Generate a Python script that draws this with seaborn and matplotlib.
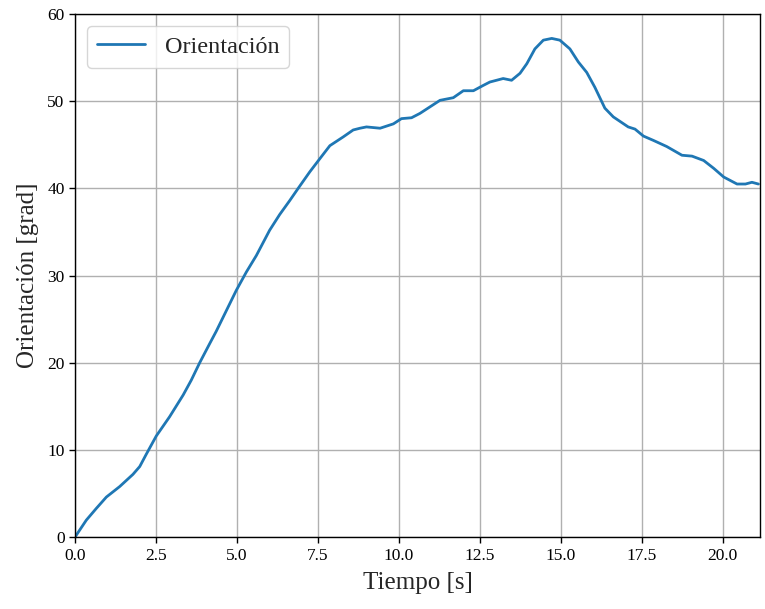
import matplotlib
matplotlib.use("Agg")
import matplotlib.pyplot as plt
import seaborn as sns
import pandas as pd

tiempo = [0.0, 0.35, 0.66, 0.97, 1.38, 1.79, 2.0, 2.2, 2.51, 2.92, 3.34, 3.59, 3.85, 4.16,
          4.36, 4.98, 5.29, 5.6, 6.01, 6.32, 6.63, 6.89, 7.25, 7.6, 7.87, 8.28, 8.59,
          8.8, 9.0, 9.42, 9.83, 10.08, 10.39, 10.65, 11.27, 11.68, 11.99, 12.3, 12.6,
          12.81, 13.22, 13.48, 13.74, 13.95, 14.2, 14.46, 14.72, 14.97, 15.28, 15.54,
          15.8, 16.05, 16.36, 16.62, 17.08, 17.29, 17.55, 17.86, 18.27, 18.74, 19.05,
          19.41, 19.72, 20.03, 20.44, 20.7, 20.9, 21.1]
orientacion = [0.0, 1.95, 3.3, 4.6, 5.8, 7.2, 8.1, 9.5, 11.6, 13.8, 16.3, 18.0, 20.0, 22.2,
               23.6, 28.3, 30.4, 32.3, 35.2, 37.0, 38.6, 40.0, 41.9, 43.6, 44.9, 45.9, 46.7,
               46.9, 47.05, 46.9, 47.4, 48.0, 48.1, 48.6, 50.1, 50.4, 51.2, 51.2, 51.8,
               52.2, 52.6, 52.4, 53.2, 54.3, 56.0, 57.0, 57.2, 57.0, 56.0, 54.5,
               53.3, 51.6, 49.2, 48.2, 47.05, 46.8, 46.0, 45.5, 44.8, 43.8, 43.7,
               43.2, 42.3, 41.3, 40.5, 40.5, 40.7, 40.5]

df = pd.DataFrame({"Tiempo": tiempo, "Orientación": orientacion})

sns.set_style("ticks", {"axes.grid": True, "grid.color": "#b0b0b0", "axes.edgecolor": "black"})
plt.rcParams["font.family"] = ["Liberation Serif", "DejaVu Serif"]

fig = plt.figure(figsize=(7.65, 6.09), dpi=100)
ax = fig.add_axes([0.098, 0.118, 0.8955, 0.859])
sns.lineplot(data=df, x="Tiempo", y="Orientación", ax=ax, color="#1f77b4",
             linewidth=2, label="Orientación")
ax.set_xlim(0, 21.15)
ax.set_ylim(0, 60)
ax.set_xticks([0, 2.5, 5, 7.5, 10, 12.5, 15, 17.5, 20])
ax.set_xticklabels(["0.0", "2.5", "5.0", "7.5", "10.0", "12.5", "15.0", "17.5", "20.0"])
ax.set_yticks([0, 10, 20, 30, 40, 50, 60])
ax.tick_params(labelsize=12.5, length=4, width=1, color="black", labelcolor="black")
ax.grid(True, color="#b0b0b0", linewidth=1)
ax.set_xlabel("Tiempo [s]", fontsize=18, labelpad=6)
ax.set_ylabel("Orientación [grad]", fontsize=18, labelpad=6)
for s in ax.spines.values():
    s.set_color("black")
    s.set_linewidth(1)
ax.legend(loc="upper left", fontsize=17.5, frameon=True, fancybox=True)
fig.savefig("out.png", dpi=100)
